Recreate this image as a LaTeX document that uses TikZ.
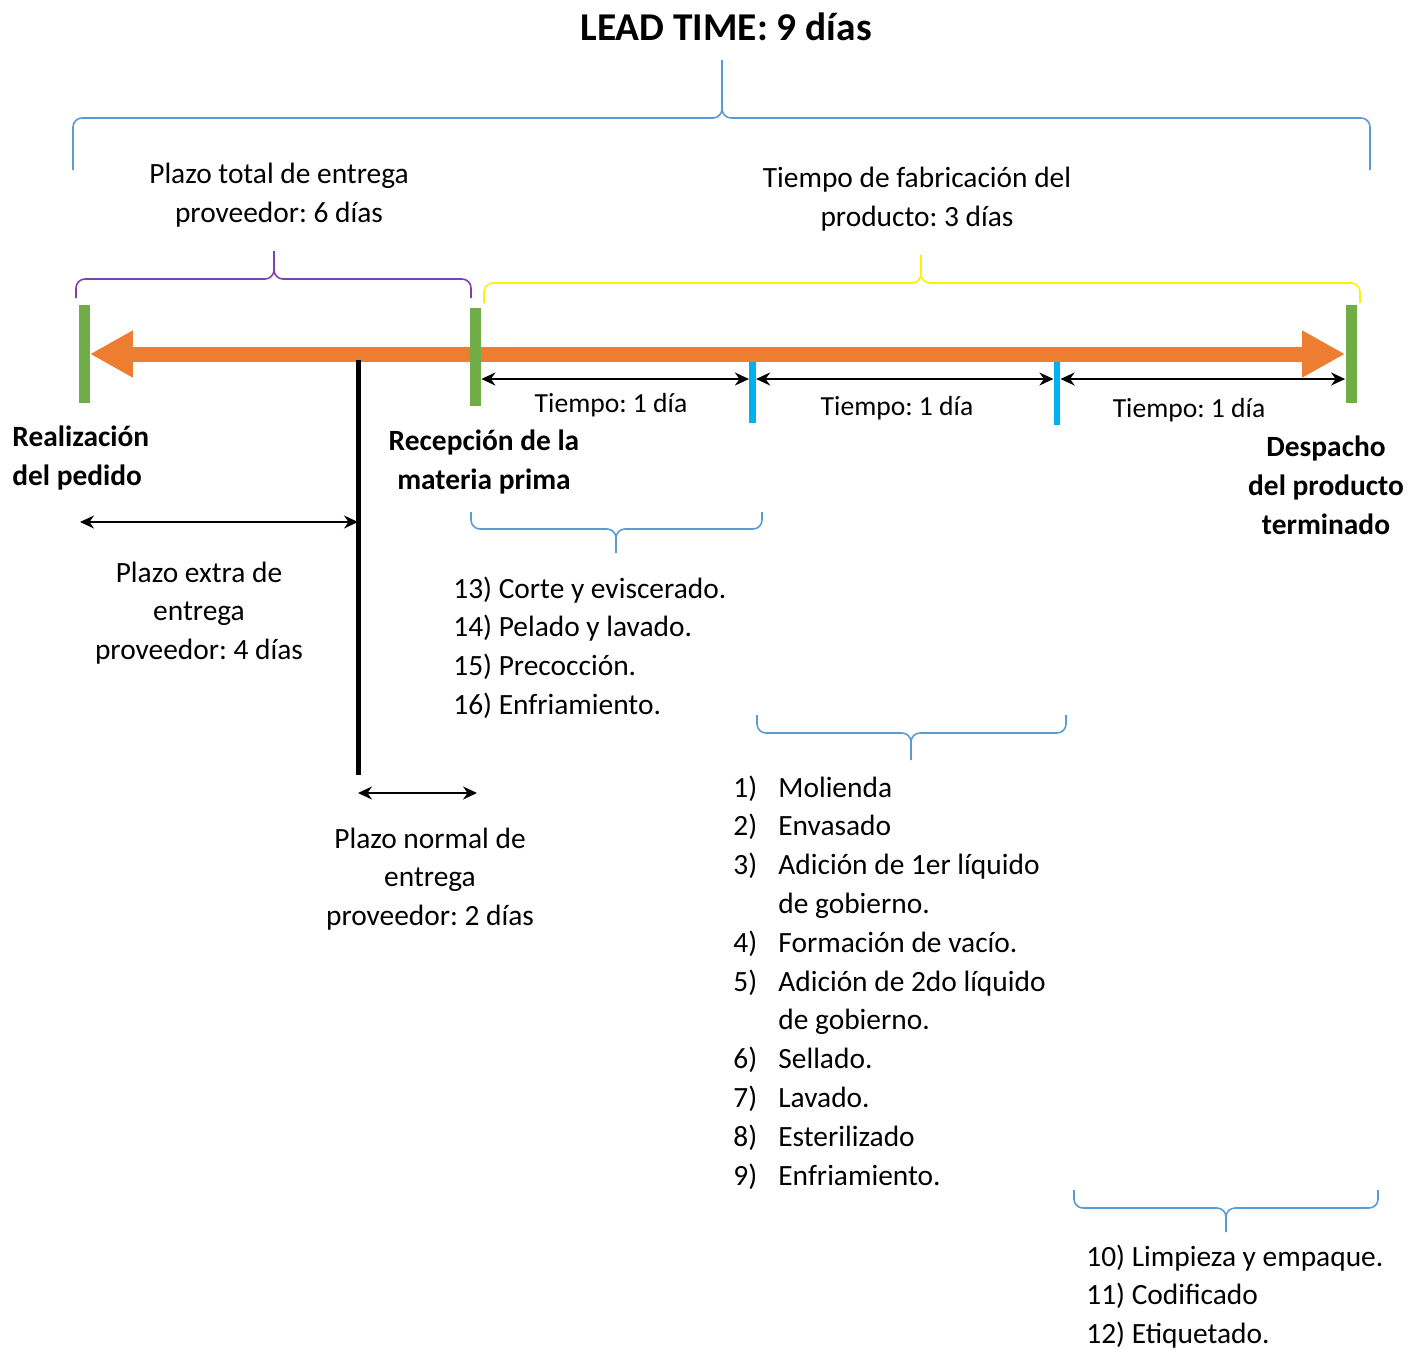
\documentclass[tikz,border=0pt]{standalone}
\usepackage{fontspec}
\setmainfont{Carlito}
\usepackage{xcolor}
\usepackage{tikz}
\usetikzlibrary{arrows.meta,positioning,backgrounds}
\definecolor{leadorange}{RGB}{237,125,49}
\definecolor{markgreen}{RGB}{112,173,71}
\definecolor{markcyan}{RGB}{0,176,240}
\definecolor{braceblue}{RGB}{91,155,213}
\definecolor{bracepurple}{RGB}{128,64,176}
\definecolor{braceyellow}{RGB}{255,242,0}
\frenchspacing

\begin{document}
\begin{tikzpicture}[
  x=0.5pt, y=-0.5pt,
  txt/.style={font=\fontsize{14.7}{19.4}\selectfont, inner sep=0pt, align=center},
  boldtxt/.style={font=\fontsize{14.7}{19.4}\selectfont\bfseries, inner sep=0pt, align=center},
  daytxt/.style={font=\fontsize{13.8}{18}\selectfont, inner sep=0pt, anchor=base},
  listtxt/.style={font=\fontsize{14.7}{19.4}\selectfont, inner sep=0pt, anchor=base west},
  gbar/.style={fill=markgreen, inner sep=0pt, minimum width=5.5pt, minimum height=49pt},
  cbar/.style={fill=markcyan, inner sep=0pt, minimum width=3.2pt, minimum height=30.5pt},
  leadarrow/.style={draw=leadorange, line width=7.5pt,
    {Triangle[length=21.5pt,width=22pt]}-{Triangle[length=21.5pt,width=22pt]}},
  dim/.style={draw=black, line width=1pt,
    {Stealth[length=7pt,width=6.5pt]}-{Stealth[length=7pt,width=6.5pt]}},
  bracket/.style={line width=0.8pt, rounded corners=4.5pt}
]
\useasboundingbox (0,0) rectangle (1423,1349);

% title and top brace
\node[boldtxt, anchor=base, font=\fontsize{19.7}{24}\selectfont\bfseries] (lead) at (726,40) {LEAD TIME: 9 días};
\draw[bracket, draw=braceblue] (73,170) -- (73,118) -- (722,118) -- (722,60)
  (1370,170) -- (1370,118) -- (722,118) -- (722,60);

\node[txt] (totalprov) at (279,195) {Plazo total de entrega\\proveedor: 6 días};
\node[txt] (fabric) at (917,199) {Tiempo de fabricación del\\producto: 3 días};

\draw[bracket, draw=bracepurple] (76,298) -- (76,279) -- (274,279) -- (274,251)
  (471,298) -- (471,279) -- (274,279) -- (274,251);
\draw[bracket, draw=braceyellow] (484,303) -- (484,283) -- (921,283) -- (921,255)
  (1360,303) -- (1360,283) -- (921,283) -- (921,255);

% time line
\node[gbar] (pedido) at (84,354) {};
\node[gbar] (recep) at (475.5,356.5) {};
\node[gbar] (desp) at (1351,354) {};
\node[cbar] (m1) at (752.5,392.5) {};
\node[cbar, minimum height=31.5pt] (m2) at (1057,393.5) {};
\begin{scope}[on background layer]
  \draw[leadarrow] (pedido.east) -- (desp.west);
\end{scope}

\coordinate (corte) at (358,360);
\coordinate (cortefin) at (358,775);
\draw[line width=2.5pt] (corte) -- (cortefin);

\draw[dim] (recep.east |- 0,379) -- (m1.west |- 0,379);
\draw[dim] (m1.east |- 0,379) -- (m2.west |- 0,379);
\draw[dim] (m2.east |- 0,379) -- (desp.west |- 0,379);
\node[daytxt] (dia1) at (611,412) {Tiempo: 1 día};
\node[daytxt] (dia2) at (897,415) {Tiempo: 1 día};
\node[daytxt] (dia3) at (1189,417) {Tiempo: 1 día};

% events
\node[boldtxt, align=left, anchor=west] (realiz) at (12,458) {Realización\\del pedido};
\node[boldtxt] (recmat) at (484,462) {Recepción de la\\materia prima};
\node[boldtxt] (despacho) at (1326,485) {Despacho\\del producto\\terminado};

% supplier lead times
\coordinate (extraini) at (80,522);
\draw[dim] (extraini) -- (corte |- extraini);
\node[txt] (extra) at (199,613) {Plazo extra de\\entrega\\proveedor: 4 días};
\coordinate (normalfin) at (477,793);
\draw[dim] (corte |- normalfin) -- (normalfin);
\node[txt] (normal) at (430,879) {Plazo normal de\\entrega\\proveedor: 2 días};

% operations per day
\draw[bracket, draw=braceblue] (471,512) -- (471,529) -- (616,529) -- (616,553)
  (762,512) -- (762,529) -- (616,529) -- (616,553);
\node[listtxt] (dia1ops) at (453,598) {\begin{tabular}[t]{@{}l@{}}
13) Corte y eviscerado.\\
14) Pelado y lavado.\\
15) Precocción.\\
16) Enfriamiento.
\end{tabular}};

\draw[bracket, draw=braceblue] (757,715) -- (757,733) -- (911,733) -- (911,760)
  (1066,715) -- (1066,733) -- (911,733) -- (911,760);
\node[listtxt] (dia2ops) at (733,797) {\begin{tabular}[t]{@{}p{22.5pt}@{}l@{}}
1) & Molienda\\
2) & Envasado\\
3) & Adición de 1er líquido\\
   & de gobierno.\\
4) & Formación de vacío.\\
5) & Adición de 2do líquido\\
   & de gobierno.\\
6) & Sellado.\\
7) & Lavado.\\
8) & Esterilizado\\
9) & Enfriamiento.
\end{tabular}};

\draw[bracket, draw=braceblue] (1074,1190) -- (1074,1208) -- (1226,1208) -- (1226,1232)
  (1378,1190) -- (1378,1208) -- (1226,1208) -- (1226,1232);
\node[listtxt] (dia3ops) at (1086,1266) {\begin{tabular}[t]{@{}l@{}}
10) Limpieza y empaque.\\
11) Codificado\\
12) Etiquetado.
\end{tabular}};
\end{tikzpicture}
\end{document}
